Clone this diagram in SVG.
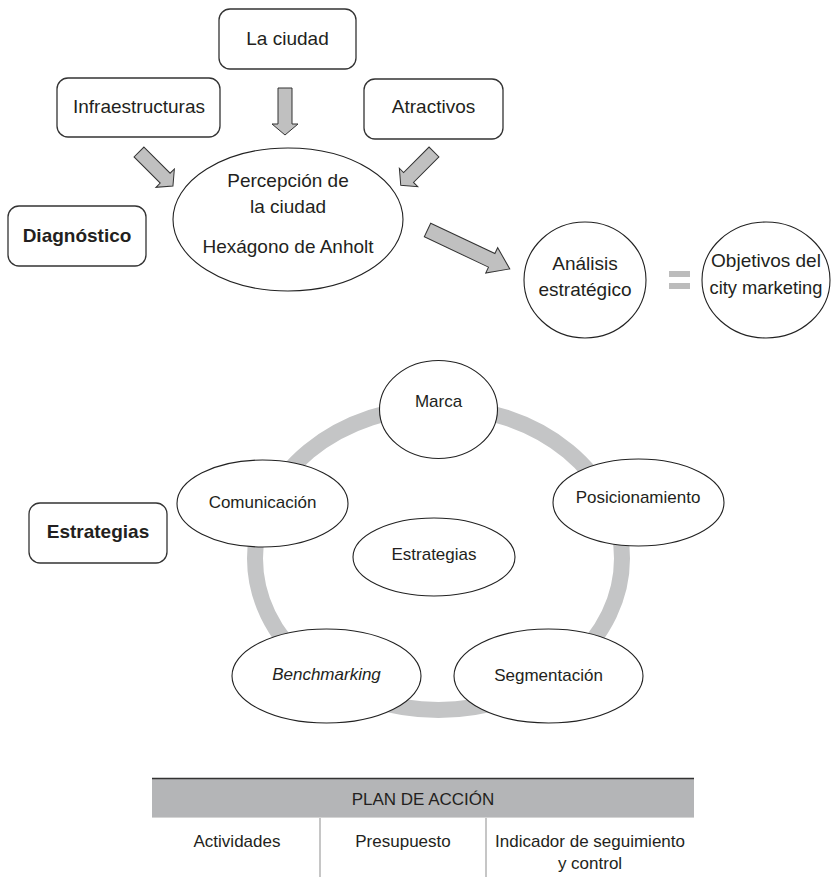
<svg xmlns="http://www.w3.org/2000/svg" width="831" height="877" viewBox="0 0 831 877">
<style>
text{font-family:"Liberation Sans",Arial,sans-serif;fill:#231f20;text-anchor:middle}
.t19{font-size:19px}
.t17{font-size:17px}
.b{font-weight:bold}
.box{fill:#fff;stroke:#333;stroke-width:1.3}
.ell{fill:#fff;stroke:#222;stroke-width:1.1}
.arr{fill:#c0c0c0;stroke:#333;stroke-width:1}
</style>
<rect width="831" height="877" fill="#fff"/>
<g id="connectors">
<path class="arr" transform="translate(285,88) rotate(90)" d="M0,-7 H36 V-13 L47,0 L36,13 V7 H0 Z"/>
<path class="arr" transform="translate(139,152) rotate(45)" d="M0,-7 H37 V-13 L48,0 L37,13 V7 H0 Z"/>
<path class="arr" transform="translate(434,152) rotate(135)" d="M0,-7 H36 V-13 L47,0 L36,13 V7 H0 Z"/>
<path class="arr" transform="translate(427.5,230) rotate(25.3)" d="M0,-7.5 H71 V-14 L91,0 L71,14 V7.5 H0 Z"/>
<g id="equals" fill="#bcbcbc">
<rect x="669" y="271" width="21" height="6"/>
<rect x="669" y="283" width="21" height="6"/>
</g>
<ellipse id="cycle" cx="438.5" cy="558.5" rx="183.5" ry="151.5" fill="none" stroke="#c4c5c6" stroke-width="16"/>
</g>
<g id="la-ciudad"><rect class="box" x="219" y="9" width="137" height="60" rx="11"/><text class="t19" x="287.5" y="45">La ciudad</text></g>
<g id="infraestructuras"><rect class="box" x="57" y="78" width="163" height="59" rx="11"/><text class="t19" x="139" y="113">Infraestructuras</text></g>
<g id="atractivos"><rect class="box" x="364" y="79" width="139" height="60" rx="11"/><text class="t19" x="433.5" y="113">Atractivos</text></g>
<g id="diagnostico"><rect class="box" x="8" y="206" width="138" height="60" rx="11"/><text class="t19 b" x="77" y="242">Diagnóstico</text></g>
<g id="percepcion"><ellipse class="ell" cx="288" cy="219.5" rx="115" ry="71.5"/><text class="t19" x="288" y="187">Percepción de</text><text class="t19" x="288" y="213">la ciudad</text><text class="t19" x="288" y="253">Hexágono de Anholt</text></g>
<g id="analisis"><ellipse class="ell" cx="585" cy="280" rx="61" ry="58"/><text class="t19" x="585" y="270">Análisis</text><text class="t19" x="585" y="296">estratégico</text></g>
<g id="objetivos"><ellipse class="ell" cx="766" cy="280" rx="64" ry="58"/><text class="t19" x="766" y="267">Objetivos del</text><text class="t19" x="766" y="294" textLength="113" lengthAdjust="spacingAndGlyphs">city marketing</text></g>
<g id="marca"><ellipse class="ell" cx="438.5" cy="409.5" rx="59" ry="49"/><text class="t17" x="438.5" y="407">Marca</text></g>
<g id="comunicacion"><ellipse class="ell" cx="262.5" cy="503.5" rx="85.5" ry="43.5"/><text class="t17" x="262.5" y="508">Comunicación</text></g>
<g id="posicionamiento"><ellipse class="ell" cx="638.5" cy="502.5" rx="85.5" ry="43.5"/><text class="t17" x="638" y="503">Posicionamiento</text></g>
<g id="estrategias-centro"><ellipse class="ell" cx="434" cy="557" rx="81" ry="39"/><text class="t17" x="434" y="560">Estrategias</text></g>
<g id="benchmarking"><ellipse class="ell" cx="326.5" cy="676" rx="94.5" ry="47"/><text class="t17" x="326.5" y="680" font-style="italic">Benchmarking</text></g>
<g id="segmentacion"><ellipse class="ell" cx="548.5" cy="676" rx="94.5" ry="47"/><text class="t17" x="548.5" y="681">Segmentación</text></g>
<g id="estrategias"><rect class="box" x="29" y="503" width="138" height="60" rx="11"/><text class="t19 b" x="98" y="538">Estrategias</text></g>
<g id="plan-de-accion">
<rect x="152" y="779" width="542" height="38" fill="#b4b5b7"/>
<line x1="152" y1="778.5" x2="694" y2="778.5" stroke="#333" stroke-width="1.5"/>
<line x1="152" y1="817.5" x2="694" y2="817.5" stroke="#d4d4d4" stroke-width="1"/>
<line x1="320" y1="818" x2="320" y2="877" stroke="#c6c6c6" stroke-width="2"/>
<line x1="486" y1="818" x2="486" y2="877" stroke="#c6c6c6" stroke-width="2"/>
<text class="t17" x="423" y="805">PLAN DE ACCIÓN</text>
<text class="t17" x="237" y="847">Actividades</text>
<text class="t17" x="403" y="847">Presupuesto</text>
<text class="t17" x="590" y="847">Indicador de seguimiento</text>
<text class="t17" x="590" y="869">y control</text>
</g>
</svg>
